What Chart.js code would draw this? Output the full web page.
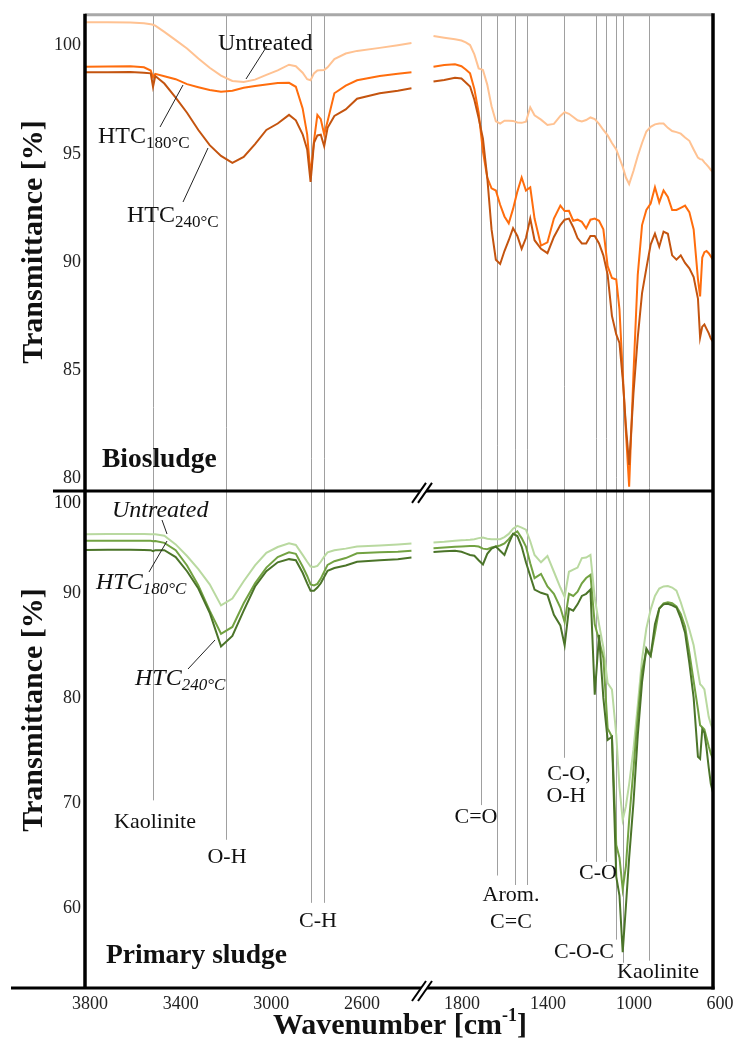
<!DOCTYPE html>
<html>
<head>
<meta charset="utf-8">
<script src="https://cdn.jsdelivr.net/npm/chart.js@4.4.1/dist/chart.umd.min.js"></script>
<style>
  html, body { margin: 0; padding: 0; background: #fff; }
  #wrap { width: 737px; height: 1043px; }
</style>
</head>
<body>
<div id="wrap"><canvas id="myChart" width="737" height="1043"></canvas></div>
<script>
// wavenumbers [cm-1] of the two axis segments
const wnLeft = [3800, 3700, 3600, 3540, 3510, 3500, 3490, 3450, 3400, 3350, 3300, 3250, 3200, 3150, 3100, 3050, 3000, 2950, 2900, 2870,
  2840, 2820, 2805, 2790, 2775, 2760, 2745, 2730, 2700, 2650, 2600, 2500, 2420, 2360];
const wnRight = [1900, 1850, 1800, 1770, 1750, 1730, 1710, 1690, 1670, 1650, 1630, 1610, 1590, 1570, 1550, 1530, 1510, 1490, 1470, 1450,
  1430, 1400, 1370, 1340, 1310, 1290, 1270, 1250, 1230, 1210, 1190, 1170, 1150, 1130, 1110, 1090, 1070, 1050, 1035, 1020,
  1005, 990, 970, 950, 930, 910, 890, 870, 850, 830, 810, 790, 770, 750, 730, 710, 690, 670, 660, 650, 640, 630, 620, 610, 600];

// Biosludge, transmittance [%]
const bioUntreatedL = [101.08, 101.08, 101.07, 101.04, 100.99, 100.97, 100.93, 100.64, 100.26, 99.87, 99.41, 98.98, 98.62, 98.37, 98.32, 98.43, 98.65, 98.86, 99.12, 99.05,
  98.75, 98.45, 98.4, 98.72, 98.85, 98.87, 98.88, 99.0, 99.38, 99.64, 99.76, 99.9, 100.02, 100.12];
const bio180L = [99.03, 99.04, 99.05, 99.0, 98.85, 98.55, 98.7, 98.59, 98.45, 98.22, 98.08, 97.95, 97.87, 97.92, 98.05, 98.14, 98.21, 98.27, 98.28, 98.1,
  97.1, 95.9, 94.0, 95.6, 96.8, 96.6, 95.9, 96.5, 97.8, 98.15, 98.4, 98.6, 98.7, 98.77];
const bio240L = [98.77, 98.77, 98.78, 98.75, 98.72, 98.1, 98.6, 98.25, 97.6, 96.9, 96.1, 95.4, 94.9, 94.58, 94.85, 95.45, 96.1, 96.4, 96.8, 96.55,
  95.9, 95.2, 93.7, 95.5, 95.85, 95.88, 95.35, 96.2, 96.75, 97.05, 97.55, 97.8, 97.92, 98.03];
const bioUntreatedR = [100.45, 100.37, 100.3, 100.24, 100.15, 100.03, 99.6, 98.95, 98.88, 98.2, 97.2, 96.5, 96.4, 96.53, 96.53, 96.52, 96.45, 96.43, 96.48, 97.15,
  96.78, 96.58, 96.33, 96.38, 96.75, 96.93, 96.85, 96.7, 96.55, 96.5, 96.56, 96.68, 96.6, 96.38, 96.1, 95.85, 95.5, 95.2, 94.8, 94.4,
  93.9, 93.6, 94.2, 94.9, 95.5, 96.03, 96.25, 96.36, 96.4, 96.4, 96.2, 96.05, 96.0, 95.93, 95.75, 95.6, 95.2, 94.82, 94.75, 94.73, 94.6, 94.5, 94.38, 94.25, 94.15];
const bio180R = [99.03, 99.11, 99.14, 99.05, 98.9, 98.72, 98.0, 96.9, 95.1, 93.9, 93.4, 93.3, 92.64, 92.1, 91.78, 92.45, 93.25, 93.9, 93.3, 93.45,
  92.0, 90.75, 90.9, 92.0, 92.6, 92.35, 92.36, 91.9, 91.95, 91.85, 91.55, 91.95, 92.0, 91.9, 91.5, 89.8, 89.25, 89.18, 87.8, 84.9,
  82.1, 79.6, 84.8, 89.4, 91.7, 92.4, 92.7, 93.45, 92.75, 93.3, 93.0, 92.4, 92.4, 92.5, 92.6, 92.3, 91.5, 89.2, 88.4, 90.2, 90.45, 90.5, 90.4, 90.25, 90.1];
const bio240R = [98.34, 98.41, 98.52, 98.48, 98.3, 98.11, 97.5, 96.65, 95.7, 93.9, 91.5, 90.1, 89.9, 90.5, 91.0, 91.56, 91.2, 90.6, 91.1, 92.0,
  91.0, 90.6, 90.4, 91.15, 91.7, 91.95, 92.0, 91.6, 91.1, 90.85, 90.85, 91.2, 91.2, 90.85, 90.3, 89.4, 87.5, 86.64, 86.25, 84.6,
  82.4, 80.6, 83.9, 86.5, 88.55, 89.7, 90.8, 91.3, 90.7, 91.4, 91.3, 90.3, 90.1, 90.3, 89.95, 89.7, 89.3, 88.3, 86.5, 87.0, 87.1, 86.9, 86.7, 86.45, 86.3];

// Primary sludge, transmittance [%]
const priUntreatedL = [95.57, 95.6, 95.6, 95.58, 95.57, 95.57, 95.56, 95.42, 94.6, 93.5, 92.25, 90.8, 88.8, 89.45, 91.1, 92.6, 93.8, 94.35, 94.7, 94.55,
  93.6, 92.95, 92.5, 92.45, 92.56, 92.95, 93.45, 93.85, 94.05, 94.2, 94.4, 94.5, 94.6, 94.68];
const pri180L = [94.94, 94.96, 94.96, 94.95, 94.94, 94.9, 94.92, 94.75, 94.05, 92.6, 90.7, 88.3, 86.1, 86.75, 89.0, 90.9, 92.4, 93.4, 93.85, 93.7,
  92.5, 91.6, 90.8, 90.7, 90.85, 91.35, 92.0, 92.65, 93.0, 93.3, 93.75, 93.85, 93.9, 93.99];
const pri240L = [94.08, 94.1, 94.1, 94.08, 94.05, 93.95, 94.05, 94.05, 93.4, 92.05, 90.4, 88.1, 84.9, 85.9, 88.3, 90.6, 92.05, 92.9, 93.2, 93.1,
  91.9, 90.9, 90.2, 90.2, 90.5, 90.9, 91.5, 92.1, 92.35, 92.6, 92.95, 93.1, 93.2, 93.35];
const priUntreatedR = [94.78, 94.85, 94.95, 95.0, 95.02, 95.05, 95.1, 95.2, 95.25, 95.15, 95.1, 95.1, 95.1, 95.3, 95.6, 96.1, 96.36, 96.2, 96.0, 94.9,
  93.6, 92.9, 93.5, 92.0, 90.5, 89.6, 92.0, 92.2, 92.4, 93.3, 93.35, 93.6, 89.5, 87.0, 84.8, 81.4, 80.8, 76.5, 71.5, 68.4,
  69.7, 71.8, 75.1, 79.3, 83.7, 86.6, 88.4, 89.7, 90.4, 90.6, 90.65, 90.5, 90.2, 89.1, 87.8, 86.5, 85.0, 82.5, 81.3, 81.1, 80.8, 79.5, 78.2, 77.5, 77.0];
const pri180R = [94.24, 94.3, 94.38, 94.4, 94.42, 94.44, 94.46, 94.4, 94.2, 94.15, 94.3, 94.4, 94.5, 94.7, 95.1, 95.6, 95.85, 95.2, 94.4, 92.8,
  91.4, 91.8, 90.6, 89.9, 88.6, 87.2, 89.9, 89.7, 90.1, 90.9, 91.4, 91.7, 87.0, 85.5, 83.8, 77.1, 76.3, 66.0, 64.8, 61.8,
  64.0, 68.4, 73.2, 78.2, 82.6, 84.5, 84.0, 86.2, 88.5, 89.0, 89.1, 89.0, 88.7, 88.0, 86.8, 84.3, 81.6, 78.9, 77.4, 77.2, 77.0, 76.2, 75.4, 74.7, 74.2];
const pri240R = [93.89, 93.95, 93.99, 93.9, 93.75, 93.6, 93.52, 93.1, 92.7, 93.7, 94.2, 94.4, 94.0, 93.6, 94.7, 95.6, 95.4, 94.4, 92.9, 91.6,
  90.3, 90.0, 89.8, 87.9, 86.9, 85.0, 88.5, 88.3, 88.9, 89.7, 89.9, 90.3, 80.3, 86.0, 80.0, 76.0, 76.3, 63.0, 61.2, 55.8,
  60.2, 64.8, 70.0, 76.4, 81.5, 84.7, 84.0, 87.0, 88.5, 88.9, 88.95, 88.8, 88.6, 87.6, 86.2, 83.3, 80.0, 74.4, 74.2, 77.0, 76.7, 75.2, 73.4, 71.8, 71.0];

// tick labels
const ticksLeft = [3800, 3400, 3000, 2600];
const ticksRight = [1800, 1400, 1000, 600];
const ticksBio = [80, 85, 90, 95, 100];
const ticksPrimary = [60, 70, 80, 90];

// band marker lines: wavenumber and the transmittance (lower panel) where they stop
const bandLeft = [3500, 3178, 2803, 2744];
const bandLeftEnd = [70.25, 66.5, 60.5, 60.5];
const bandRight = [1679, 1603, 1520, 1464, 1293, 1143, 1099, 1050, 1017, 896];
const bandRightEnd = [69.8, 63.1, 62.2, 62.2, 74.3, 64.4, 64.4, 57.0, 54.8, 55.0];

const serif = '"Liberation Serif", "Times New Roman", serif';
const ink = '#111';

function series(label, xs, ys, color, xAxis, yAxis, order) {
    return {
        label: label,
        data: xs.map((x, i) => ({x: x, y: ys[i]})),
        borderColor: color,
        borderWidth: 2,
        pointRadius: 0,
        tension: 0,
        fill: false,
        xAxisID: xAxis,
        yAxisID: yAxis,
        order: order
    };
}

function text(ctx, s, x, y, font, align) {
    ctx.font = font;
    ctx.textAlign = align || 'left';
    ctx.fillText(s, x, y);
}

// main text plus lowered subscript, left aligned at x, baseline y
function subLabel(ctx, main, sub, x, y, italic) {
    const st = italic ? 'italic ' : '';
    ctx.textAlign = 'left';
    ctx.textBaseline = 'alphabetic';
    ctx.font = st + '24px ' + serif;
    ctx.fillText(main, x, y);
    const w = ctx.measureText(main).width;
    ctx.font = st + '17px ' + serif;
    ctx.fillText(sub, x + w, y + 5);
}

function line(ctx, x1, y1, x2, y2) {
    ctx.beginPath();
    ctx.moveTo(x1, y1);
    ctx.lineTo(x2, y2);
    ctx.stroke();
}

function breakMark(ctx, cx, cy) {
    ctx.save();
    ctx.fillStyle = '#fff';
    ctx.beginPath();
    ctx.moveTo(cx - 10, cy + 12);
    ctx.lineTo(cx + 4, cy - 8);
    ctx.lineTo(cx + 10, cy - 8);
    ctx.lineTo(cx - 4, cy + 12);
    ctx.closePath();
    ctx.fill();
    ctx.strokeStyle = '#000';
    ctx.lineWidth = 2;
    line(ctx, cx - 10, cy + 12, cx + 4, cy - 8);
    line(ctx, cx - 4, cy + 12, cx + 10, cy - 8);
    ctx.restore();
}

const decorations = {
    id: 'decorations',
    beforeDatasetsDraw(chart) {
        const {ctx, scales, chartArea} = chart;
        ctx.save();
        ctx.strokeStyle = '#a0a0a0';
        ctx.lineWidth = 1;
        const bands = (wns, ends, xs) => {
            wns.forEach((wn, i) => {
                const x = Math.round(xs.getPixelForValue(wn)) + 0.5;
                line(ctx, x, chartArea.top, x, scales.yB.getPixelForValue(ends[i]));
            });
        };
        bands(bandLeft, bandLeftEnd, scales.xL);
        bands(bandRight, bandRightEnd, scales.xR);
        ctx.restore();
    },
    afterDraw(chart) {
        const {ctx, scales, chartArea} = chart;
        const L = chartArea.left, R = chartArea.right, T = chartArea.top, B = chartArea.bottom;
        const mid = scales.yT.bottom;
        const brk = scales.xL.right;
        ctx.save();

        // frame
        ctx.lineCap = 'butt';
        ctx.strokeStyle = '#a8a8a8';
        ctx.lineWidth = 3;
        line(ctx, L, T, R, T);
        ctx.strokeStyle = '#000';
        ctx.lineWidth = 3.5;
        line(ctx, L, T - 1, L, B);
        line(ctx, R, T - 1.5, R, B + 1.5);
        ctx.lineWidth = 3;
        line(ctx, 53, mid, R, mid);
        line(ctx, 11, B, R + 1.5, B);
        breakMark(ctx, brk, mid);
        breakMark(ctx, brk, B + 1);

        ctx.fillStyle = ink;
        ctx.textBaseline = 'middle';
        // "100" of the lower panel sits just under the divider
        text(ctx, '100', L - 4, 503, '18px ' + serif, 'right');

        // axis titles
        ctx.save();
        ctx.font = 'bold 30px ' + serif;
        ctx.textAlign = 'center';
        ctx.translate(34, 242);
        ctx.rotate(-Math.PI / 2);
        ctx.fillText('Transmittance [%]', 0, 0);
        ctx.restore();
        ctx.save();
        ctx.font = 'bold 30px ' + serif;
        ctx.textAlign = 'center';
        ctx.translate(34, 710);
        ctx.rotate(-Math.PI / 2);
        ctx.fillText('Transmittance [%]', 0, 0);
        ctx.restore();

        ctx.textBaseline = 'alphabetic';
        ctx.font = 'bold 30px ' + serif;
        const p1 = 'Wavenumber [cm', p3 = ']';
        const w1 = ctx.measureText(p1).width;
        const w3 = ctx.measureText(p3).width;
        ctx.font = 'bold 18px ' + serif;
        const w2 = ctx.measureText('-1').width;
        let x0 = 400 - (w1 + w2 + w3) / 2;
        text(ctx, p1, x0, 1034, 'bold 30px ' + serif);
        text(ctx, '-1', x0 + w1, 1021, 'bold 18px ' + serif);
        text(ctx, p3, x0 + w1 + w2, 1034, 'bold 30px ' + serif);

        // panel names
        text(ctx, 'Biosludge', 102, 467, 'bold 27.5px ' + serif);
        text(ctx, 'Primary sludge', 106, 963, 'bold 27.5px ' + serif);

        // band names
        ctx.textBaseline = 'middle';
        const bf = '22px ' + serif;
        text(ctx, 'Kaolinite', 155, 822, bf, 'center');
        text(ctx, 'O-H', 227, 857, bf, 'center');
        text(ctx, 'C-H', 318, 921, bf, 'center');
        text(ctx, 'C=O', 476, 817, bf, 'center');
        text(ctx, 'Arom.', 511, 895, bf, 'center');
        text(ctx, 'C=C', 511, 922, bf, 'center');
        text(ctx, 'C-O,', 569, 774, bf, 'center');
        text(ctx, 'O-H', 566, 796, bf, 'center');
        text(ctx, 'C-O', 598, 873, bf, 'center');
        text(ctx, 'C-O-C', 584, 952, bf, 'center');
        text(ctx, 'Kaolinite', 658, 972, bf, 'center');

        // series names, upper panel
        text(ctx, 'Untreated', 218, 44, '24px ' + serif);
        subLabel(ctx, 'HTC', '180°C', 98, 143, false);
        subLabel(ctx, 'HTC', '240°C', 127, 222, false);
        // series names, lower panel
        ctx.textBaseline = 'alphabetic';
        text(ctx, 'Untreated', 112, 517, 'italic 24px ' + serif);
        subLabel(ctx, 'HTC', '180°C', 96, 589, true);
        subLabel(ctx, 'HTC', '240°C', 135, 685, true);

        // leader lines
        ctx.strokeStyle = '#222';
        ctx.lineWidth = 1;
        line(ctx, 267, 46, 246, 79);
        line(ctx, 160, 127, 183, 85);
        line(ctx, 183, 202, 208, 148);
        line(ctx, 162, 520, 167, 534);
        line(ctx, 149, 572, 167, 541);
        line(ctx, 188, 669, 215, 640);
        ctx.restore();
    }
};

const tickFont = {family: serif, size: 18};

function yAxis(min, max, ticks, weight, stackWeight) {
    return {
        type: 'linear',
        position: 'left',
        stack: 'panels',
        stackWeight: stackWeight,
        weight: weight,
        min: min,
        max: max,
        afterBuildTicks: (s) => { s.ticks = ticks.map(v => ({value: v})); },
        afterFit: (s) => { s.width = 85; },
        grid: {display: false, drawTicks: false},
        border: {display: false},
        ticks: {font: tickFont, color: '#222', padding: 4, callback: (v) => String(v)}
    };
}

function xAxis(min, max, ticks, weight, stackWeight, offset) {
    return {
        type: 'linear',
        position: 'bottom',
        stack: 'wavenumber',
        stackWeight: stackWeight,
        weight: weight,
        reverse: true,
        min: min,
        max: max,
        afterBuildTicks: (s) => { s.ticks = ticks.map(v => ({value: v})); },
        afterFit: (s) => { s.height = 55; },
        grid: {display: false, drawTicks: false},
        border: {display: false},
        ticks: {font: tickFont, color: '#222', padding: 5, labelOffset: offset,
                maxRotation: 0, autoSkip: false, callback: (v) => String(v)}
    };
}

const ctx = document.getElementById('myChart').getContext('2d');

const config = {
    type: 'line',
    data: {
        datasets: [
            series('Untreated', wnLeft, bioUntreatedL, '#ffc292', 'xL', 'yT', 3),
            series('Untreated', wnRight, bioUntreatedR, '#ffc292', 'xR', 'yT', 3),
            series('HTC 180°C', wnLeft, bio180L, '#ff6d0d', 'xL', 'yT', 2),
            series('HTC 180°C', wnRight, bio180R, '#ff6d0d', 'xR', 'yT', 2),
            series('HTC 240°C', wnLeft, bio240L, '#c4540f', 'xL', 'yT', 1),
            series('HTC 240°C', wnRight, bio240R, '#c4540f', 'xR', 'yT', 1),
            series('Untreated', wnLeft, priUntreatedL, '#b9d9a0', 'xL', 'yB', 3),
            series('Untreated', wnRight, priUntreatedR, '#b9d9a0', 'xR', 'yB', 3),
            series('HTC 180°C', wnLeft, pri180L, '#72a242', 'xL', 'yB', 2),
            series('HTC 180°C', wnRight, pri180R, '#72a242', 'xR', 'yB', 2),
            series('HTC 240°C', wnLeft, pri240L, '#4b7429', 'xL', 'yB', 1),
            series('HTC 240°C', wnRight, pri240R, '#4b7429', 'xR', 'yB', 1)
        ]
    },
    options: {
        responsive: false,
        animation: false,
        layout: {padding: {left: 0, right: 24, top: 13, bottom: 0}},
        scales: {
            yT: yAxis(79.4, 101.43, ticksBio, 1, 477),
            yB: yAxis(52.4, 99.69, ticksPrimary, 0, 498),
            xL: xAxis(2313.5, 3800, ticksLeft, 0, 337, 5),
            xR: xAxis(600, 1953.5, ticksRight, 1, 291, 7)
        },
        plugins: {
            legend: {display: false},
            tooltip: {enabled: false}
        }
    },
    plugins: [decorations]
};

const myChart = new Chart(ctx, config);
</script>
</body>
</html>
